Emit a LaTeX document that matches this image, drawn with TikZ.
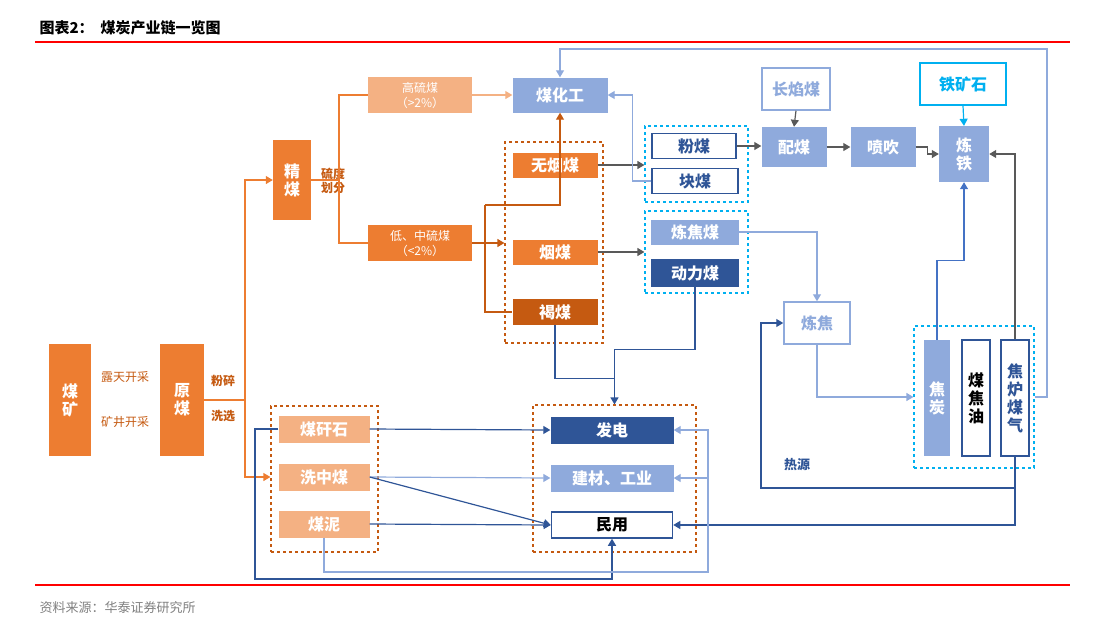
\documentclass[tikz,border=0pt]{standalone}
\usepackage{fontspec}
\setmainfont{Noto Sans CJK SC}
\usetikzlibrary{arrows.meta}
\definecolor{org}{HTML}{ED7D31}
\definecolor{lorg}{HTML}{F4B183}
\definecolor{dorg}{HTML}{C55A11}
\definecolor{lblue}{HTML}{8FAADC}
\definecolor{mblue}{HTML}{4472C4}
\definecolor{dblue}{HTML}{2F5597}
\definecolor{cyanb}{HTML}{00B0F0}
\definecolor{arrgray}{HTML}{595959}
\tikzset{
    box/.style={
           rectangle,
           inner sep=1pt,
           text centered,
           font=\fontsize{16}{18}\selectfont\bfseries,
           },
    fbox/.style={box, fill=#1, text=white},
    wbox/.style={box, fill=white, draw=#1, line width=1.5pt, text=#1},
    grp/.style={rectangle, dashed, draw=#1, line width=1.2pt, inner sep=0pt},
    arr/.style={-{Triangle[width=8pt,length=7pt]}, line width=1.2pt},
    ln/.style={line width=1.2pt},
    lab/.style={font=\fontsize{12}{15}\selectfont\bfseries, align=center},
}

\begin{document}
\begin{tikzpicture}[x=1pt,y=-1pt]
    \useasboundingbox (0,0) rectangle (1101,633);
    % title and rules
    \node[anchor=west, font=\fontsize{15}{17}\selectfont\bfseries] (title) at (36,28) {图表2：\ \ 煤炭产业链一览图};
    \draw[red, line width=1.5pt] (35,42) -- (1070,42);
    \draw[red, line width=1.5pt] (35,585) -- (1070,585);
    \node[anchor=west, text=gray, font=\fontsize{13}{15}\selectfont] (source) at (36,608) {资料来源：华泰证券研究所};

    % mining side
    \node[fbox=org, minimum width=42pt, minimum height=112pt, align=center] (meikuang) at (70,400) {煤\\矿};
    \node[fbox=org, minimum width=44pt, minimum height=112pt, align=center] (yuanmei) at (182,400) {原\\煤};
    \node[lab, text=dorg, font=\fontsize{12}{15}\selectfont] (lutian) at (125,377) {露天开采};
    \node[lab, text=dorg, font=\fontsize{12}{15}\selectfont] (kuangjing) at (125,422) {矿井开采};
    \node[lab, text=dorg] (fensui) at (223,381) {粉碎};
    \node[lab, text=dorg] (xixuan) at (223,416) {洗选};
    \node[fbox=org, minimum width=38pt, minimum height=80pt, align=center] (jingmei) at (292,180) {精\\煤};
    \node[lab, text=dorg, font=\fontsize{12}{14}\selectfont\bfseries] (liudu) at (333,181) {硫度\\划分};

    % sulphur split
    \node[fbox=lorg, minimum width=104pt, minimum height=36pt, align=center,
        font=\fontsize{12}{15}\selectfont] (gaoliu) at (420,95) {高硫煤\\（>2\%）};
    \node[fbox=org, minimum width=104pt, minimum height=36pt, align=center,
        font=\fontsize{12}{15}\selectfont] (diliu) at (420,243) {低、中硫煤\\（<2\%）};

    % coal types
    \node[grp=dorg, minimum width=98pt, minimum height=201pt] (gtype) at (554,242.5) {};
    \node[fbox=org, minimum width=85pt, minimum height=25pt] (wuyan) at (555,165) {无烟煤};
    \node[fbox=org, minimum width=85pt, minimum height=25pt] (yan) at (555,252) {烟煤};
    \node[fbox=dorg, minimum width=85pt, minimum height=26pt] (he) at (555,312) {褐煤};
    \node[fbox=lblue, minimum width=95pt, minimum height=35pt] (meihuagong) at (560,95) {煤化工};

    \node[grp=cyanb, minimum width=103pt, minimum height=76pt] (gfen) at (696.5,164) {};
    \node[wbox=dblue, minimum width=84pt, minimum height=25pt] (fenmei) at (694,146) {粉煤};
    \node[wbox=dblue, minimum width=86pt, minimum height=25pt] (kuaimei) at (695,181) {块煤};
    \node[grp=cyanb, minimum width=103pt, minimum height=82pt] (gjiao) at (696.5,252) {};
    \node[fbox=lblue, minimum width=88pt, minimum height=25pt] (lianjiaomei) at (695,232) {炼焦煤};
    \node[fbox=dblue, minimum width=88pt, minimum height=28pt] (dongli) at (695,273) {动力煤};

    % iron making
    \node[wbox=lblue, minimum width=68pt, minimum height=42pt] (changyan) at (796,89) {长焰煤};
    \node[fbox=lblue, minimum width=65pt, minimum height=40pt] (peimei) at (794,147) {配煤};
    \node[fbox=lblue, minimum width=65pt, minimum height=40pt] (penchui) at (883,147) {喷吹};
    \node[fbox=lblue, minimum width=50pt, minimum height=56pt, align=center] (liantie) at (964,154) {炼\\铁};
    \node[wbox=cyanb, minimum width=86pt, minimum height=42pt] (tiekuang) at (963,84) {铁矿石};
    \node[wbox=lblue, minimum width=66pt, minimum height=42pt] (lianjiao) at (817,323) {炼焦};

    % coking products
    \node[grp=cyanb, minimum width=120pt, minimum height=142pt] (gprod) at (974,397) {};
    \node[fbox=lblue, minimum width=26pt, minimum height=116pt, align=center] (jiaotan) at (937,398) {焦\\炭};
    \node[wbox=dblue, minimum width=28pt, minimum height=116pt, align=center, text=black] (meijiaoyou) at (976,398) {煤\\焦\\油};
    \node[wbox=dblue, minimum width=28pt, minimum height=116pt, align=center] (jiaolu) at (1015,398) {焦\\炉\\煤\\气};
    \node[lab, text=dblue, font=\fontsize{13}{15}\selectfont\bfseries] (reyuan) at (797,465) {热源};

    % washing by-products and uses
    \node[grp=dorg, minimum width=107pt, minimum height=146pt] (gwash) at (324.5,479) {};
    \node[fbox=lorg, minimum width=91pt, minimum height=27pt] (meigan) at (324,429) {煤矸石};
    \node[fbox=lorg, minimum width=91pt, minimum height=27pt] (xizhong) at (324,477) {洗中煤};
    \node[fbox=lorg, minimum width=91pt, minimum height=27pt] (meini) at (324,524) {煤泥};
    \node[grp=dorg, minimum width=163pt, minimum height=147pt] (guse) at (614.5,478.5) {};
    \node[fbox=dblue, minimum width=123pt, minimum height=27pt] (fadian) at (612,430) {发电};
    \node[fbox=lblue, minimum width=123pt, minimum height=27pt] (jiancai) at (612,478) {建材、工业};
    \node[wbox=dblue, minimum width=121pt, minimum height=26pt, text=black] (minyong) at (612,525) {民用};

    % helper points
    \coordinate (split) at (245,400);
    \coordinate (sulf) at (339,180);
    \coordinate (lowtop) at (485,205);
    \coordinate (lowbot) at (485,312);
    \coordinate (loopA) at (255,579);
    \coordinate (loopB) at (708,572);
    \coordinate (heat) at (761,488);
    \coordinate (back) at (1047,49);

    % orange flows
    \draw[ln, org] (yuanmei.east) -- (split);
    \draw[arr, org] (split) |- (jingmei.west);
    \draw[arr, org] (split) |- (gwash.west |- xizhong.west);
    \draw[ln, org] (jingmei.east) -- (sulf);
    \draw[ln, org] (sulf) |- (gaoliu.west);
    \draw[ln, org] (sulf) |- (diliu.west);
    \draw[arr, lorg] (gaoliu.east) -- (meihuagong.west);
    \draw[arr, dorg] (diliu.east) -- (gtype.west |- diliu.east);
    \draw[ln, dorg] (lowtop) -- (lowbot) -- (he.west);
    \draw[arr, dorg] (lowtop) -| (meihuagong.south);

    % gray flows
    \draw[arr, arrgray] (wuyan.east) -- (gfen.west |- wuyan.east);
    \draw[arr, arrgray] (yan.east) -- (gjiao.west |- yan.east);
    \draw[arr, arrgray] (fenmei.east) -- (peimei.west |- fenmei.east);
    \draw[arr, arrgray] (changyan.south) -- (peimei.north);
    \draw[arr, arrgray] (peimei.east) -- (penchui.west);
    \draw[arr, arrgray] (penchui.east) -- ++(12,0) |- (liantie.west);
    \draw[arr, arrgray] (jiaolu.north) |- (liantie.east);
    \draw[arr, cyanb] (tiekuang.south) -- (liantie.north);

    % blue flows
    \draw[arr, lblue] (kuaimei.west) -- ++(-19,0) |- (meihuagong.east);
    \draw[arr, lblue] (gprod.east) -- (gprod.east -| back) -- (back) -| (meihuagong.north);
    \draw[arr, lblue] (lianjiaomei.east) -| (lianjiao.north);
    \draw[arr, lblue] (lianjiao.south) |- (gprod.west);
    \draw[arr, mblue] (jiaotan.north) -- ++(0,-79) -| (liantie.south);
    \draw[arr, dblue] (jiaolu.south) |- (heat) |- (lianjiao.west);
    \draw[arr, dblue] (jiaolu.south) |- (minyong.east);
    \draw[arr, dblue] (dongli.south) -- ++(0,62) -| (guse.north);
    \draw[ln, dblue] (he.south) -- ++(0,53) -| (guse.north);

    \draw[arr, dblue] (meigan.east) -- (fadian.west);
    \draw[arr, lblue] (xizhong.east) -- (jiancai.west);
    \draw[arr, dblue] (xizhong.east) -- (minyong.west);
    \draw[arr, dblue] (meini.east) -- (minyong.west);
    \draw[arr, dblue] (meigan.west) -| (loopA) -| (minyong.south);
    \draw[arr, lblue] (meini.south) |- (loopB) |- (fadian.east);
    \draw[arr, lblue] (loopB |- jiancai.east) -- (jiancai.east);
\end{tikzpicture}
\end{document}
